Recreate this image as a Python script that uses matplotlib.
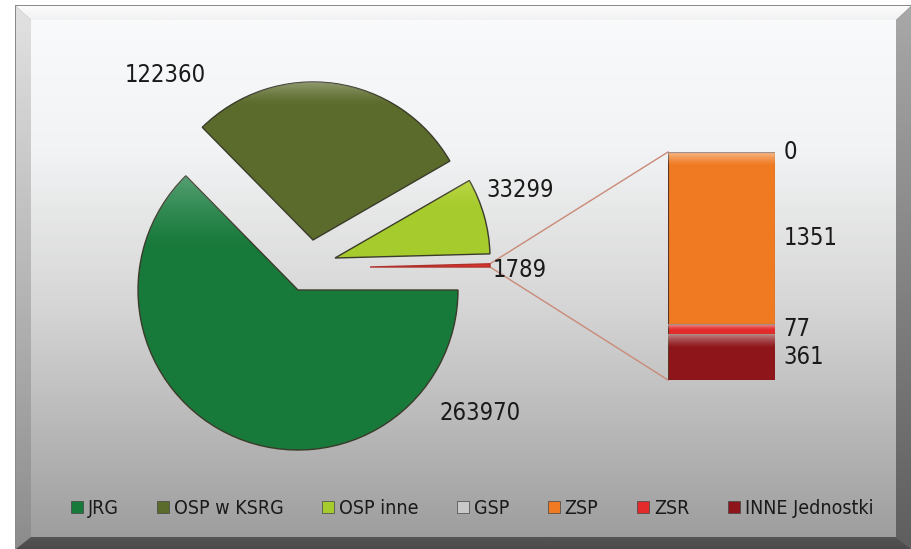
import numpy as np
import matplotlib
matplotlib.use('Agg')
import matplotlib.pyplot as plt
from matplotlib.patches import Wedge, Polygon, Rectangle
from matplotlib.lines import Line2D
from matplotlib.colors import LinearSegmentedColormap

# data
pie_labels = ['JRG', 'OSP w KSRG', 'OSP inne']
pie_values = [263970, 122360, 33299]
bar_labels = ['GSP', 'ZSP', 'ZSR', 'INNE Jednostki']
bar_values = [0, 1351, 77, 361]
legend_labels = ['JRG', 'OSP w KSRG', 'OSP inne', 'GSP', 'ZSP', 'ZSR', 'INNE Jednostki']

colors = {
    'JRG': '#17793a',
    'OSP w KSRG': '#5b6b2b',
    'OSP inne': '#a6cb2c',
    'GSP': '#c9c9c9',
    'ZSP': '#ef7a22',
    'ZSR': '#e42b2c',
    'INNE Jednostki': '#8e1519',
}
other_color = '#d8352c'

# condensed face, close to the narrow font of the original
plt.rcParams['font.family'] = ['DejaVu Sans']
plt.rcParams['font.stretch'] = 'condensed'

W, H = 911, 549
fig = plt.figure(figsize=(W / 100, H / 100), dpi=100)
fig.patch.set_facecolor('white')
ax = fig.add_axes([0, 0, 1, 1])
ax.set_xlim(0, W)
ax.set_ylim(0, H)
ax.axis('off')


def Y(y):
    # pixel row (from top) -> data y
    return H - y


def grad_poly(pts, c_top, c_bot, z=0):
    pts = [(x, Y(y)) for x, y in pts]
    poly = Polygon(pts, closed=True, facecolor='none', edgecolor='none', zorder=z)
    ax.add_patch(poly)
    xs = [p[0] for p in pts]
    ys = [p[1] for p in pts]
    cmap = LinearSegmentedColormap.from_list('g', [c_bot, c_top])
    g = np.linspace(0, 1, 256).reshape(-1, 1)
    im = ax.imshow(g, cmap=cmap, origin='lower', aspect='auto',
                   extent=[min(xs), max(xs), min(ys), max(ys)], zorder=z)
    im.set_clip_path(poly)


def gloss(a, patch, x0, x1, ytop, depth, alpha, z, col=(1, 1, 1)):
    # white sheen fading downwards from ytop (data coords), clipped to patch
    n = 64
    rgba = np.zeros((n, 1, 4))
    rgba[..., :3] = col
    rgba[:, 0, 3] = np.linspace(alpha, 0, n) ** 1.3
    im = a.imshow(rgba, origin='upper', aspect='auto',
                  extent=[x0, x1, ytop - depth, ytop], zorder=z)
    im.set_clip_path(patch)


# frame
ax.add_patch(Rectangle((15, Y(549)), W - 15, 549 - 5, facecolor='#8a8a8a', edgecolor='none', zorder=0))
grad_poly([(16, 6), (911, 6), (896, 20), (31, 20)], '#fbfbfb', '#f2f2f2', z=1)
grad_poly([(16, 6), (31, 20), (31, 537), (16, 549)], '#e2e2e2', '#8c8c8c', z=1)
grad_poly([(911, 6), (896, 20), (896, 537), (911, 549)], '#a8a8a8', '#5e5e5e', z=1)
grad_poly([(16, 549), (31, 537), (896, 537), (911, 549)], '#555555', '#4a4a4a', z=1)

# inner panel, white at top fading to grey
panel = Polygon([(31, Y(20)), (896, Y(20)), (896, Y(537)), (31, Y(537))],
                facecolor='none', edgecolor='none', zorder=1)
ax.add_patch(panel)
pcmap = LinearSegmentedColormap.from_list(
    'p', [(0, '#9e9e9e'), (0.45, '#d6d6d6'), (0.75, '#f2f3f4'), (1, '#f9fafb')])
im = ax.imshow(np.linspace(0, 1, 256).reshape(-1, 1), cmap=pcmap, origin='lower',
               aspect='auto', extent=[31, 896, Y(537), Y(20)], zorder=1)
im.set_clip_path(panel)

# pie (exploded, angles from values)
other_total = sum(bar_values)
vals = [other_total, pie_values[2], pie_values[1], pie_values[0]]
names = ['other', 'OSP inne', 'OSP w KSRG', 'JRG']
total = sum(vals)
# layout of each exploded slice: centre (px from left, px from top), radius
slice_pos = {
    'JRG': (298, 290, 160),
    'OSP w KSRG': (313, 240, 158),
    'OSP inne': (335, 258, 155),
    'other': (370, 267, 120),
}
ang = 0.0
angles = {}
for n, v in zip(names, vals):
    a = v / total * 360
    angles[n] = (ang, ang + a)
    ang += a

wedges = {}
for n in names:
    cx, cy, r = slice_pos[n]
    t1, t2 = angles[n]
    col = other_color if n == 'other' else colors[n]
    edge = '#b0302a' if n == 'other' else '#3b3b2a'
    w = Wedge((cx, Y(cy)), r, t1, t2, facecolor=col, edgecolor=edge, lw=1.0, zorder=3)
    ax.add_patch(w)
    wedges[n] = w

# sheen on the slices
gloss(ax, wedges['JRG'], 130, 460, Y(170), 80, 0.45, 4, col=(0.85, 0.95, 0.92))
gloss(ax, wedges['OSP w KSRG'], 190, 460, Y(80), 25, 0.45, 4)
gloss(ax, wedges['OSP inne'], 330, 495, Y(180), 30, 0.35, 4, col=(1, 1, 0.6))

pie_text = {
    'OSP w KSRG': (165, 75),
    'OSP inne': (520, 190),
    'other': (520, 270),
    'JRG': (480, 413),
}
for n, v in zip(names, vals):
    x, y = pie_text[n]
    ax.text(x, Y(y), f'{v}', fontsize=17, ha='center', va='center', color='#1a1a1a', zorder=5)

# bar of the "other" slice
bx0, bx1, by_top, by_bot = 668, 775, 152, 380
ax_bar = fig.add_axes([bx0 / W, (H - by_bot) / H, (bx1 - bx0) / W, (by_bot - by_top) / H])
ax_bar.set_xlim(-0.5, 0.5)
ax_bar.set_ylim(0, other_total)
ax_bar.axis('off')
bottom = 0
for lab, v in zip(reversed(bar_labels), reversed(bar_values)):
    bars = ax_bar.bar(0, v, width=1.0, bottom=bottom, color=colors[lab],
                      edgecolor='#5a3424', linewidth=0.8, zorder=3)
    if v > 0:
        gloss(ax_bar, bars[0], -0.5, 0.5, bottom + v, min(v, 200) * 0.55, 0.6, 4)
    ty = other_total if lab == 'GSP' else bottom + v / 2
    ax_bar.text(1.08, ty, f'{v}', transform=ax_bar.get_yaxis_transform(),
                fontsize=17, ha='left', va='center', color='#1a1a1a', clip_on=False)
    bottom += v
ax_bar.set_xlim(-0.5, 0.5)
ax_bar.set_ylim(0, other_total)

# connector lines from pie sliver to bar
cx, cy, r = slice_pos['other']
t1, t2 = angles['other']
p_hi = (cx + r * np.cos(np.radians(t2)), Y(cy) + r * np.sin(np.radians(t2)))
p_lo = (cx + r * np.cos(np.radians(t1)), Y(cy) + r * np.sin(np.radians(t1)))
ax.plot([p_hi[0], bx0], [p_hi[1], Y(by_top)], color='#c98a78', lw=1.0, zorder=2)
ax.plot([p_lo[0], bx0], [p_lo[1], Y(by_bot)], color='#c98a78', lw=1.0, zorder=2)
ax.set_xlim(0, W)
ax.set_ylim(0, H)

# legend
handles = [Line2D([], [], marker='s', linestyle='none', markersize=8,
                  markerfacecolor=colors[l], markeredgecolor='#444444', markeredgewidth=0.5)
           for l in legend_labels]
ax.legend(handles, legend_labels, loc='center', bbox_to_anchor=(472 / W, Y(508) / H),
          ncol=7, frameon=False, fontsize=14, handlelength=0.6, handletextpad=0.25,
          columnspacing=2.0, labelcolor='#1a1a1a')

fig.savefig('out.png', dpi=100)
